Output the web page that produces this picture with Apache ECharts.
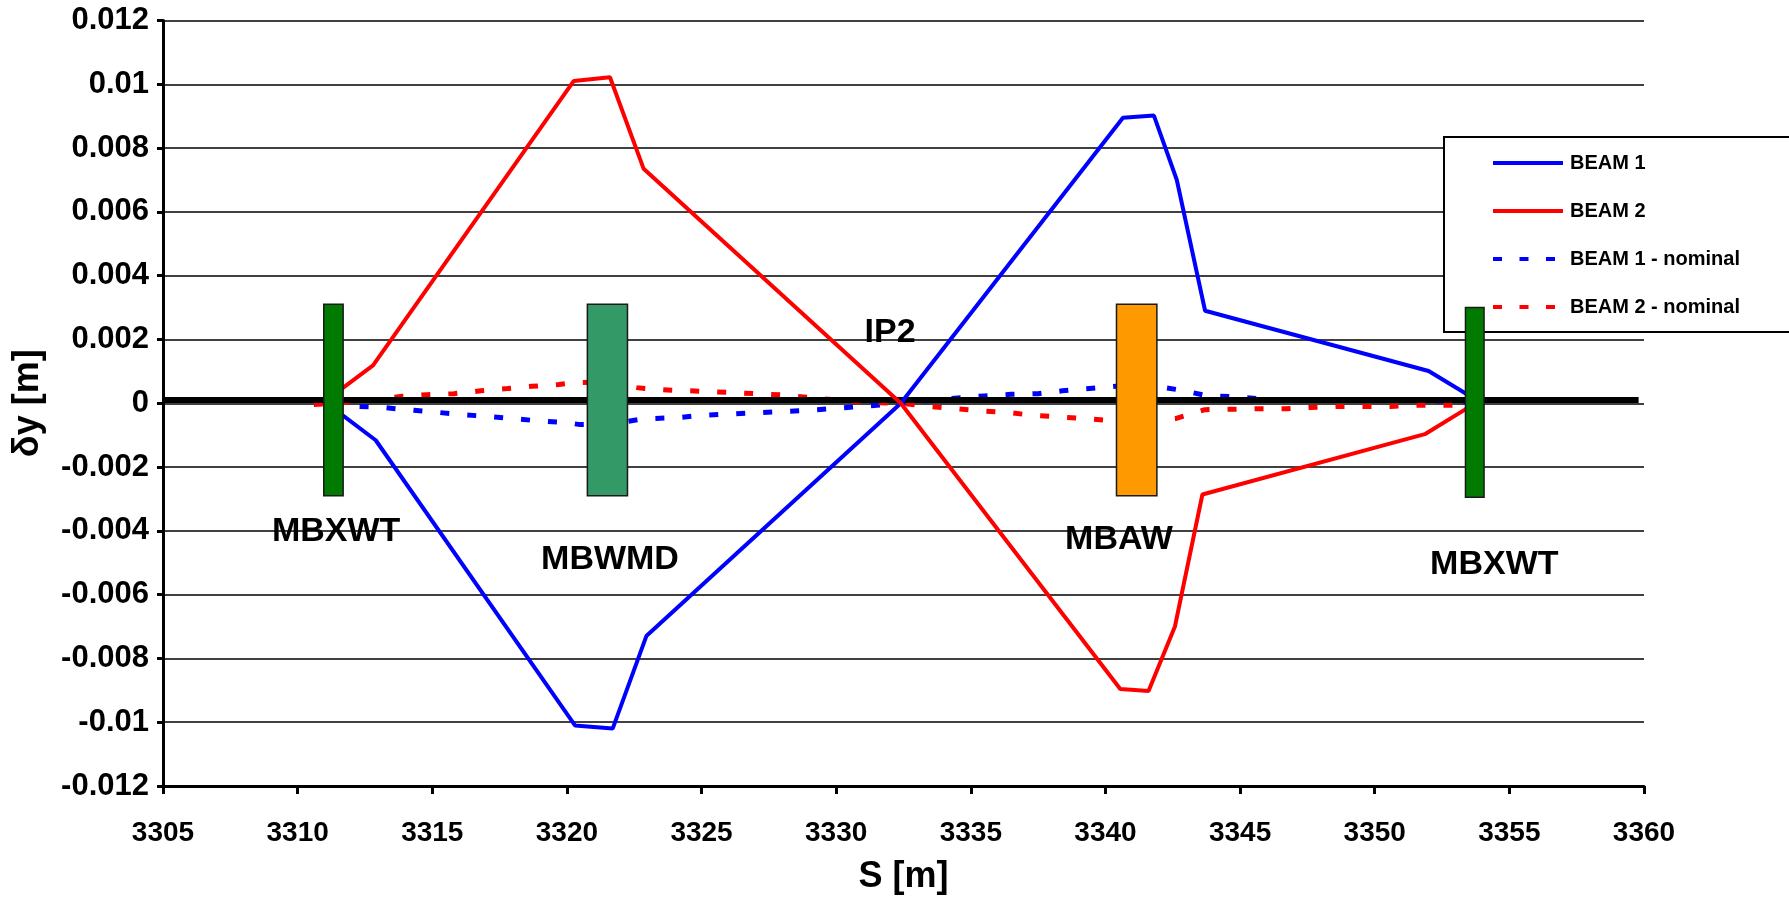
<!DOCTYPE html>
<html>
<head>
<meta charset="utf-8">
<script src="https://cdn.jsdelivr.net/npm/echarts@6/dist/echarts.min.js"></script>
<style>
html,body{margin:0;padding:0;background:#fff;}
#chart{width:1789px;height:898px;}
</style>
</head>
<body>
<div id="chart"></div>
<script>
// ---- Data ----
const xMin = 3305, xMax = 3360, xStep = 5;
const yTickLabels = ['-0.012','-0.01','-0.008','-0.006','-0.004','-0.002','0','0.002','0.004','0.006','0.008','0.01','0.012'];

const beam1S = [3311.0, 3312.9, 3320.3, 3321.7, 3322.95, 3332.4, 3340.65, 3341.8, 3342.65, 3343.7, 3352.0, 3353.35, 3353.7];
const beam1Y = [0.00005, -0.00116, -0.0101, -0.0102, -0.0073, 0, 0.00895, 0.00902, 0.0070, 0.0029, 0.00101, 0.00032, 0.0001];

const beam2S = [3311.0, 3312.8, 3320.25, 3321.6, 3322.85, 3332.4, 3340.55, 3341.6, 3342.58, 3343.6, 3351.86, 3353.35, 3353.7];
const beam2Y = [0.00005, 0.00119, 0.0101, 0.01022, 0.00735, 0, -0.00896, -0.00902, -0.0070, -0.00286, -0.00097, -0.0002, 0];

const beam1NomS = [3311.3, 3311.9, 3313.0, 3314.0, 3315.0, 3316.0, 3317.0, 3318.0, 3318.9, 3319.9, 3320.5, 3321.5, 3322.7, 3323.1, 3324.1, 3325.0, 3326.0, 3327.0, 3328.0, 3329.0, 3330.0, 3330.9, 3331.7, 3332.4, 3333.4, 3334.4, 3335.5, 3336.5, 3337.5, 3338.4, 3339.4, 3340.4, 3341.9, 3342.8, 3343.8, 3344.9, 3346.0, 3348.0, 3350.0, 3352.0, 3353.4, 3354.0];
const beam1NomY = [-0.00005, -0.00009, -0.00012, -0.0002, -0.00027, -0.00035, -0.00041, -0.00048, -0.00055, -0.0006, -0.00067, -0.00066, -0.00051, -0.00048, -0.00045, -0.00038, -0.00034, -0.0003, -0.00026, -0.00022, -0.00016, -0.0001, -0.00005, 0, 0.00008, 0.00016, 0.00023, 0.00028, 0.0003, 0.00039, 0.00046, 0.00053, 0.00053, 0.00041, 0.00023, 0.0002, 0.00012, 0.0001, 0.0001, 0.00008, 0.00005, 0];

const beam2NomS = [3310.6, 3311.3, 3312.0, 3312.9, 3313.9, 3314.8, 3315.8, 3316.8, 3317.8, 3318.7, 3319.7, 3320.4, 3321.5, 3322.6, 3322.9, 3323.9, 3324.9, 3326.0, 3327.0, 3328.0, 3329.0, 3330.0, 3331.0, 3332.4, 3333.4, 3334.4, 3335.4, 3336.4, 3337.3, 3338.3, 3339.3, 3340.3, 3341.5, 3342.6, 3343.7, 3344.7, 3345.7, 3346.7, 3347.6, 3348.6, 3349.6, 3350.6, 3351.5, 3352.9, 3353.4];
const beam2NomY = [-0.00004, 0, 0.00005, 0.00012, 0.00022, 0.00027, 0.0003, 0.00039, 0.00046, 0.00053, 0.00059, 0.00065, 0.00066, 0.00049, 0.00046, 0.00041, 0.00038, 0.00034, 0.0003, 0.00026, 0.00018, 0.0001, 0.00003, 0, -0.0001, -0.00017, -0.00024, -0.00029, -0.00038, -0.00043, -0.00048, -0.00055, -0.00056, -0.00048, -0.0002, -0.00019, -0.00017, -0.00017, -0.00013, -0.0001, -0.0001, -0.0001, -0.00006, -0.00006, 0];

const pipeS = [3305, 3359.8];
const pipeY = [0.0001, 0.0001];

const magnetNames = ['MBXWT', 'MBWMD', 'MBAW', 'MBXWT'];
const magnetStart = [3310.97, 3320.76, 3340.41, 3353.37];
const magnetEnd   = [3311.69, 3322.25, 3341.91, 3354.06];
const magnetTop   = [0.0031, 0.0031, 0.0031, 0.0030];
const magnetBottom= [-0.0029, -0.0029, -0.0029, -0.00295];
const magnetColors= ['#007A00', '#339966', '#FF9900', '#007A00'];

const labelTexts = ['MBXWT', 'MBWMD', 'IP2', 'MBAW', 'MBXWT'];
const labelS = [3311.43, 3321.6, 3332.0, 3340.5, 3354.44];
const labelY = [-0.00403, -0.00491, 0.0022, -0.00428, -0.00505];

// ---- Build ----
const zip = (a, b) => a.map((v, i) => [v, b[i]]);
const FONT = 'Liberation Sans, Arial, sans-serif';
const solidIcon = 'path://M0,0H70V4H0Z';
const dashIcon = 'path://M0,0H9V4H0Z M26.5,0H35.5V4H26.5Z M53,0H62V4H53Z M70,0L70,4';

const chart = echarts.init(document.getElementById('chart'));
const option = {
  backgroundColor: '#ffffff',
  animation: false,
  grid: { left: 163, right: 145, top: 20.5, bottom: 112, containLabel: false, outerBoundsMode: 'none' },
  legend: {
    orient: 'vertical',
    left: 1444, top: 137,
    backgroundColor: '#ffffff',
    borderColor: '#000000', borderWidth: 2,
    padding: [16, 300, 15, 49],
    itemWidth: 70, itemHeight: 4, itemGap: 28,
    z: 4,
    data: [
      { name: 'BEAM 1', icon: solidIcon },
      { name: 'BEAM 2', icon: solidIcon },
      { name: 'BEAM 1 - nominal', icon: dashIcon },
      { name: 'BEAM 2 - nominal', icon: dashIcon }
    ],
    textStyle: { fontFamily: FONT, fontWeight: 'bold', fontSize: 20, color: '#000', padding: [0, 0, 0, 2] }
  },
  xAxis: {
    type: 'value', min: xMin, max: xMax, interval: xStep,
    name: 'S [m]', nameLocation: 'middle', nameGap: 73,
    nameTextStyle: { fontFamily: FONT, fontWeight: 'bold', fontSize: 36, color: '#000' },
    axisLine: { show: true, onZero: false, lineStyle: { color: '#000', width: 3 } },
    axisTick: { show: true, inside: false, length: 8, lineStyle: { color: '#000', width: 3 } },
    axisLabel: { margin: 33, fontFamily: FONT, fontWeight: 'bold', fontSize: 28, color: '#000',
      formatter: v => String(v) },
    splitLine: { show: false }
  },
  yAxis: {
    type: 'value', min: -0.012, max: 0.012, interval: 0.002,
    name: 'δy [m]', nameLocation: 'middle', nameGap: 117, nameRotate: 90,
    nameTextStyle: { fontFamily: FONT, fontWeight: 'bold', fontSize: 36, color: '#000' },
    axisLine: { show: true, onZero: false, lineStyle: { color: '#000', width: 3 } },
    axisTick: { show: true, inside: false, length: 6, lineStyle: { color: '#000', width: 3 } },
    axisLabel: {
      margin: 14, fontFamily: FONT, fontWeight: 'bold', fontSize: 31, color: '#000',
      formatter: v => yTickLabels[Math.round((v + 0.012) / 0.002)]
    },
    splitLine: { show: true, lineStyle: { color: '#404040', width: 2 } }
  },
  series: [
    {
      name: 'BEAM 1 - nominal', type: 'line', data: zip(beam1NomS, beam1NomY),
      symbol: 'none', z: 2,
      lineStyle: { color: '#0000FF', width: 5, type: [9, 18] }, itemStyle: { color: '#0000FF' }
    },
    {
      name: 'BEAM 2 - nominal', type: 'line', data: zip(beam2NomS, beam2NomY),
      symbol: 'none', z: 2,
      lineStyle: { color: '#FF0000', width: 5, type: [9, 18] }, itemStyle: { color: '#FF0000' }
    },
    {
      name: 'pipe', type: 'line', data: zip(pipeS, pipeY),
      symbol: 'none', z: 3, silent: true,
      lineStyle: { color: '#000000', width: 6 }
    },
    {
      name: 'BEAM 1', type: 'line', data: zip(beam1S, beam1Y),
      symbol: 'none', z: 3,
      lineStyle: { color: '#0000FF', width: 4 }, itemStyle: { color: '#0000FF' }
    },
    {
      name: 'BEAM 2', type: 'line', data: zip(beam2S, beam2Y),
      symbol: 'none', z: 3,
      lineStyle: { color: '#FF0000', width: 4 }, itemStyle: { color: '#FF0000' }
    },
    {
      name: 'magnets', type: 'custom', z: 6,
      data: magnetStart.map((s, i) => [s, magnetEnd[i], magnetBottom[i], magnetTop[i]]),
      encode: { x: [0, 1], y: [2, 3] },
      renderItem: (params, api) => {
        const p0 = api.coord([api.value(0), api.value(3)]);
        const p1 = api.coord([api.value(1), api.value(2)]);
        return {
          type: 'rect',
          shape: { x: p0[0], y: p0[1], width: p1[0] - p0[0], height: p1[1] - p0[1] },
          style: { fill: magnetColors[params.dataIndex], stroke: '#1a1a1a', lineWidth: 1.5 }
        };
      }
    },
    {
      name: 'labels', type: 'scatter', z: 7, symbolSize: 0, silent: true,
      itemStyle: { opacity: 1 },
      data: labelTexts.map((t, i) => ({ name: t, value: [labelS[i], labelY[i]] })),
      label: {
        show: true, position: 'inside', formatter: '{b}', opacity: 1,
        fontFamily: FONT, fontWeight: 'bold', fontSize: 34, color: '#000000'
      }
    }
  ]
};
chart.setOption(option);
</script>
</body>
</html>
